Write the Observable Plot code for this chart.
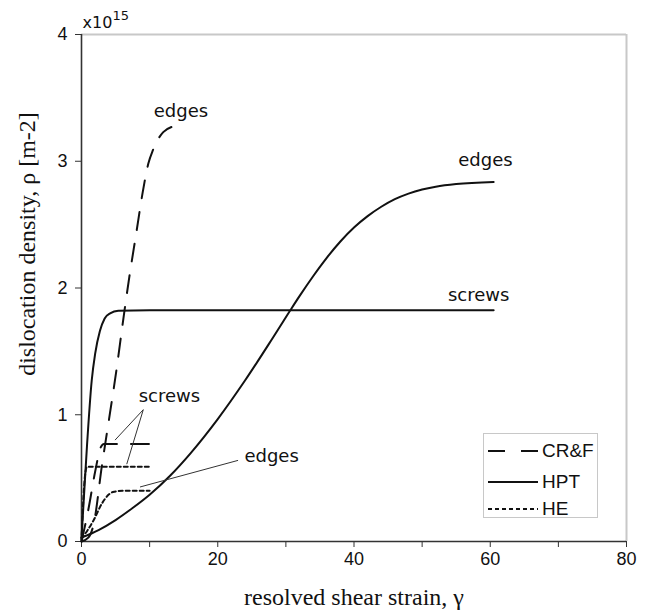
<!DOCTYPE html>
<html>
<head>
<meta charset="utf-8">
<script src="https://cdn.jsdelivr.net/npm/d3@7"></script>
<script src="https://cdn.jsdelivr.net/npm/@observablehq/plot@0.6"></script>
<style>
  body { margin: 0; background: #fff; }
  #wrap { position: relative; width: 648px; height: 615px; }
  #legend { position: absolute; left: 483px; top: 433px; width: 115px; height: 85px;
            border: 1px solid #c8c8c8; background: #fff; box-sizing: border-box; }
  #legend .row { position: absolute; left: 4px; height: 24px; display: flex; align-items: center;
                 font-family: "Liberation Sans", Arial, sans-serif; font-size: 19px; color: #111; }
  #legend svg { margin-right: 4px; }
</style>
</head>
<body>
<div id="wrap"><div id="legend"></div></div>
<script>
// ---- data (x = resolved shear strain, y = dislocation density in 1e15 m^-2) ----
const methods = ["CR&F", "HPT", "HE"];

const crfEdges = [[0,0],[1,0.03],[1.8,0.14],[3,0.6],[4.2,1.02],[5.2,1.38],[6,1.7],[7,2.08],[8,2.42],[9,2.76],[9.8,2.98],[10.5,3.09],[11.2,3.17],[12,3.23],[13.2,3.27]];
const crfScrews = [[0,0],[1,0.25],[2,0.55],[2.8,0.74],[3.3,0.77],[11.8,0.77]];
const hptEdges = [[0,0.03],[2.5,0.09],[5,0.169],[7.5,0.264],[10,0.369],[13,0.519],[16,0.696],[20,0.966],[24,1.27],[28,1.6],[30.6,1.82],[32,1.936],[34,2.093],[36,2.238],[38,2.367],[40,2.477],[42,2.567],[44,2.641],[46,2.701],[48,2.745],[50,2.777],[52,2.799],[55,2.82],[60.5,2.837]];
const hptScrews = [[0,0.03],[0.3,0.3],[0.8,0.75],[1.5,1.27],[2,1.48],[2.7,1.66],[3.4,1.76],[4.2,1.8],[5.4,1.82],[10,1.825],[60.5,1.825]];
const heEdges = [[0,0.02],[1.8,0.17],[3,0.3],[4,0.37],[4.6,0.39],[6,0.4],[10,0.4]];
const heScrews = [[0,0],[0.4,0.45],[0.8,0.59],[10,0.59]];

const xTicks = [0,10,20,30,40,50,60,70,80];
const yTicks = [0,1,2,3,4];

const labelText = ["edges","edges","screws","screws","edges"];
const labelX = [14.6, 59.3, 58.3, 12.9, 27.9];
const labelY = [3.35, 2.96, 1.90, 1.10, 0.63];

const leaderX1 = [9.07, 9.07, 22.98];
const leaderY1 = [1.04, 1.04, 0.64];
const leaderX2 = [4.92, 6.64, 8.59];
const leaderY2 = [0.80, 0.61, 0.43];

const xTitle = "resolved shear strain, γ";
const yTitle = "dislocation density, ρ [m-2]";

// ---- build tables ----
const curves = [
  {method: "CR&F", kind: "edges", pts: crfEdges},
  {method: "CR&F", kind: "screws", pts: crfScrews},
  {method: "HPT", kind: "edges", pts: hptEdges},
  {method: "HPT", kind: "screws", pts: hptScrews},
  {method: "HE", kind: "edges", pts: heEdges},
  {method: "HE", kind: "screws", pts: heScrews}
];
const rows = curves.flatMap(c => c.pts.map(([x, y]) => ({x, y, method: c.method, key: c.method + "-" + c.kind})));
const dashOf = {"CR&F": "18,14", "HPT": "none", "HE": "4,3"};
const labels = labelText.map((t, i) => ({t, x: labelX[i], y: labelY[i]}));
const leaders = leaderX1.map((v, i) => ({x1: v, y1: leaderY1[i], x2: leaderX2[i], y2: leaderY2[i]}));

const lineMarks = methods.map(m => Plot.line(rows.filter(r => r.method === m), {
  x: "x", y: "y", z: "key", stroke: "#111", strokeWidth: 2,
  strokeDasharray: dashOf[m] === "none" ? undefined : dashOf[m],
  curve: "monotone-x"
}));

const chart = Plot.plot({
  width: 648, height: 615,
  marginLeft: 81, marginRight: 22, marginTop: 34, marginBottom: 74,
  style: {fontFamily: "'Liberation Sans', Arial, sans-serif", fontSize: "18px", background: "#fff", color: "#111"},
  x: {domain: [0, 80]},
  y: {domain: [0, 4]},
  marks: [
    Plot.ruleY([4], {stroke: "#c8c8c8", strokeWidth: 2}),
    Plot.ruleX([80], {stroke: "#c8c8c8", strokeWidth: 2}),
    Plot.axisX({ticks: xTicks, tickFormat: d => d % 20 === 0 ? d : "", tickSize: 6, tickPadding: 5, stroke: "#333", label: null}),
    Plot.axisY({ticks: yTicks, tickFormat: d => d, tickSize: 6, tickPadding: 8, stroke: "#333", label: null}),
    Plot.ruleX([0], {stroke: "#333", strokeWidth: 1.6}),
    Plot.ruleY([0], {stroke: "#333", strokeWidth: 1.6}),
    ...lineMarks,
    Plot.link(leaders, {x1: "x1", y1: "y1", x2: "x2", y2: "y2", stroke: "#333", strokeWidth: 1}),
    Plot.text(labels, {x: "x", y: "y", text: "t", fontFamily: "'DejaVu Sans', Verdana, sans-serif", fontSize: 18, lineAnchor: "bottom", fill: "#111"}),
    Plot.text(["x10"], {frameAnchor: "top-left", dx: 1, dy: -7, textAnchor: "start", lineAnchor: "bottom", fontFamily: "'DejaVu Sans', sans-serif", fontSize: 16, fill: "#111"}),
    Plot.text(["15"], {frameAnchor: "top-left", dx: 31, dy: -15, textAnchor: "start", lineAnchor: "bottom", fontFamily: "'DejaVu Sans', sans-serif", fontSize: 13, fill: "#111"}),
    Plot.text([xTitle], {frameAnchor: "bottom", dy: 63, lineAnchor: "bottom", fontFamily: "'Liberation Serif', 'Times New Roman', serif", fontSize: 24, fill: "#111"}),
    Plot.text([yTitle], {frameAnchor: "left", dx: -54, dy: -44, rotate: -90, textAnchor: "middle", fontFamily: "'Liberation Serif', 'Times New Roman', serif", fontSize: 24, fill: "#111"})
  ]
});
document.getElementById("wrap").prepend(chart);

// ---- legend ----
const legend = document.getElementById("legend");
methods.forEach((m, i) => {
  const row = document.createElement("div");
  row.className = "row";
  row.style.top = [5, 36, 63][i] + "px";
  const s = d3.create("svg").attr("width", 50).attr("height", 10);
  s.append("line").attr("x1", 0).attr("x2", 50).attr("y1", 5).attr("y2", 5)
    .attr("stroke", "#111").attr("stroke-width", 2)
    .attr("stroke-dasharray", dashOf[m] === "none" ? null : (m === "CR&F" ? "17,16" : "4,3"));
  row.appendChild(s.node());
  const t = document.createElement("span");
  t.textContent = m;
  row.appendChild(t);
  legend.appendChild(row);
});
</script>
</body>
</html>
